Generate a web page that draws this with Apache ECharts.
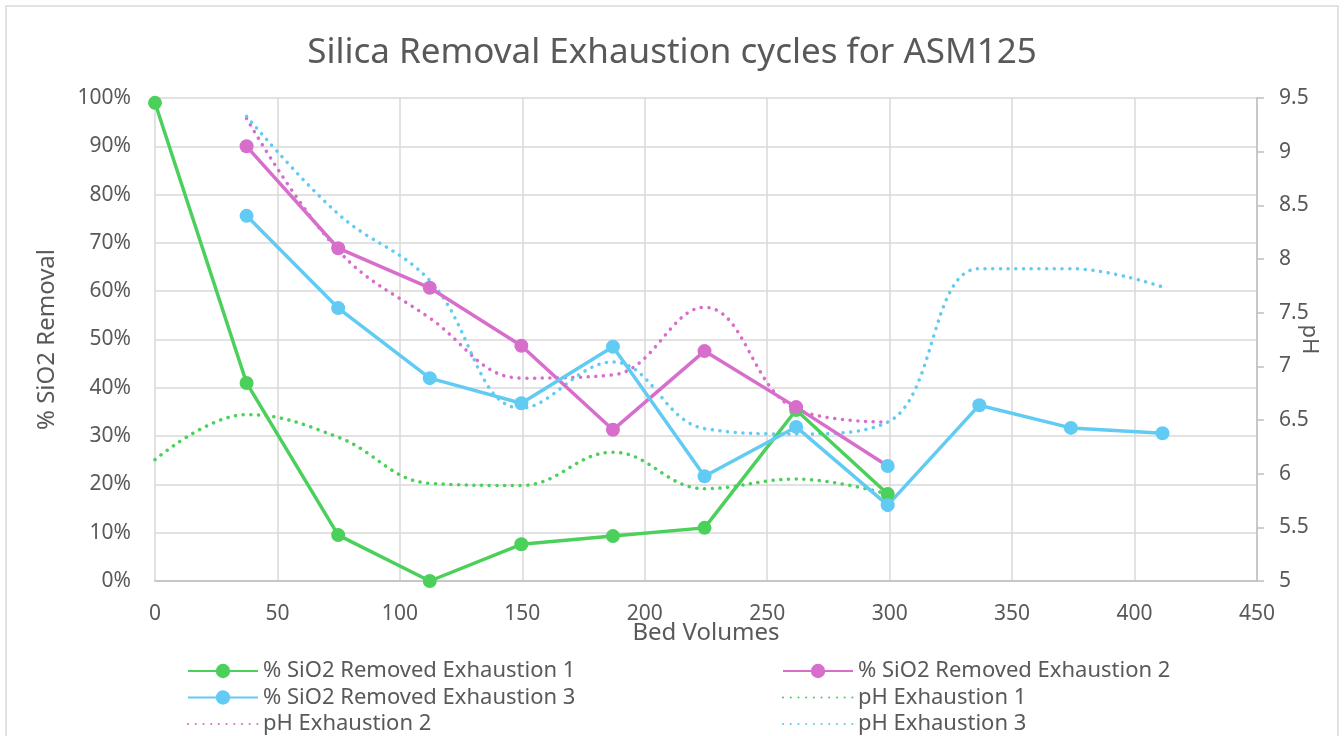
<!DOCTYPE html>
<html>
<head>
<meta charset="utf-8">
<script src="https://cdn.jsdelivr.net/npm/echarts@6/dist/echarts.min.js"></script>
<style>
  html, body { margin: 0; padding: 0; background: #fff; }
  #chart { width: 1344px; height: 736px; }
</style>
</head>
<body>
<div id="chart"></div>
<script>
  // bed volumes shared by all exhaustion runs
  const bedVolumes = [0, 37.4, 74.8, 112.2, 149.6, 187, 224.4, 261.8, 299.2, 336.6, 374, 411.4];

  // % SiO2 removed (left axis)
  const removed1 = [99, 41, 9.5, 0, 7.6, 9.3, 11, 35.4, 18];
  const removed2 = [null, 90, 68.9, 60.7, 48.7, 31.3, 47.6, 36, 23.8];
  const removed3 = [null, 75.6, 56.5, 42, 36.8, 48.5, 21.7, 31.9, 15.7, 36.4, 31.7, 30.6];

  // pH (right axis)
  const ph1 = [6.13, 6.55, 6.34, 5.91, 5.89, 6.2, 5.86, 5.95, 5.81];
  const ph2 = [null, 9.31, 8.08, 7.45, 6.89, 6.92, 7.55, 6.6, 6.48];
  const ph3 = [null, 9.33, 8.42, 7.8, 6.61, 7.04, 6.42, 6.37, 6.48, 7.91, 7.91, 7.74];

  const names = [
    "% SiO2 Removed Exhaustion 1",
    "% SiO2 Removed Exhaustion 2",
    "% SiO2 Removed Exhaustion 3",
    "pH Exhaustion 1",
    "pH Exhaustion 2",
    "pH Exhaustion 3"
  ];

  const green = "#4BD05B";
  const pink = "#D86ECC";
  const blue = "#61CBF3";
  const textColor = "#595959";
  const font = "Noto Sans";

  function pairs(values) {
    let out = [];
    values.forEach((v, i) => {
      if (v !== null) out.push([bedVolumes[i], v]);
    });
    return out;
  }

  function solidSeries(name, values, color) {
    return {
      name: name,
      type: "line",
      yAxisIndex: 0,
      data: pairs(values),
      symbol: "circle",
      symbolSize: 14,
      itemStyle: { color: color },
      lineStyle: { color: color, width: 3.5 },
      z: 3
    };
  }

  function dottedSeries(name, values, color) {
    return {
      name: name,
      type: "line",
      yAxisIndex: 1,
      data: pairs(values),
      smooth: 0.4,
      symbol: "none",
      itemStyle: { color: color },
      lineStyle: { color: color, width: 3.5, type: [0.1, 7.6], cap: "round" },
      z: 2
    };
  }

  let series = [
    solidSeries(names[0], removed1, green),
    solidSeries(names[1], removed2, pink),
    solidSeries(names[2], removed3, blue),
    dottedSeries(names[3], ph1, green),
    dottedSeries(names[4], ph2, pink),
    dottedSeries(names[5], ph3, blue)
  ];
  // the last point of exhaustion 2 is shown with a light blue marker in the original
  let last2 = series[1].data.length - 1;
  series[1].data[last2] = { value: series[1].data[last2], itemStyle: { color: blue } };

  // dotted pH entries show only the line in the legend
  function legendItem(name) {
    if (name.indexOf("pH") === 0) return { name: name, itemStyle: { opacity: 0 } };
    return { name: name };
  }

  const legendText = { color: textColor, fontSize: 22, fontFamily: font, lineHeight: 22 };

  const chart = echarts.init(document.getElementById("chart"));
  chart.setOption({
    animation: false,
    backgroundColor: "#fff",
    textStyle: { fontFamily: font },
    graphic: [{
      type: "rect",
      shape: { x: 6, y: 6, width: 1332, height: 740 },
      style: { fill: "none", stroke: "#D9D9D9", lineWidth: 1.5 },
      silent: true
    }],
    title: {
      text: "Silica Removal Exhaustion cycles for ASM125",
      left: "center",
      top: 31,
      textStyle: { color: textColor, fontSize: 35, fontWeight: "normal", fontFamily: font }
    },
    grid: { left: 155, right: 87, top: 98, bottom: 155, outerBoundsMode: "none" },
    legend: [
      {
        orient: "vertical",
        left: 182,
        top: 655,
        height: 120,
        itemWidth: 70,
        itemHeight: 18,
        itemGap: 4.5,
        data: [names[0], names[2], names[4]].map(legendItem),
        textStyle: legendText
      },
      {
        orient: "vertical",
        left: 777,
        top: 655,
        height: 120,
        itemWidth: 70,
        itemHeight: 18,
        itemGap: 4.5,
        data: [names[1], names[3], names[5]].map(legendItem),
        textStyle: legendText
      }
    ],
    xAxis: {
      type: "value",
      min: 0,
      max: 450,
      interval: 50,
      name: "Bed Volumes",
      nameLocation: "middle",
      nameGap: 40,
      nameMoveOverlap: false,
      nameTextStyle: { color: textColor, fontSize: 24, fontFamily: font },
      axisLine: { show: true, lineStyle: { color: "#BFBFBF", width: 1.5 } },
      axisTick: { show: false },
      axisLabel: { color: textColor, fontSize: 21, margin: 23, fontFamily: font },
      splitLine: { show: true, lineStyle: { color: "#D9D9D9", width: 1.5 } }
    },
    yAxis: [
      {
        type: "value",
        min: 0,
        max: 100,
        interval: 10,
        name: "% SiO2 Removal",
        nameLocation: "middle",
        nameRotate: 90,
        nameGap: 96,
        nameMoveOverlap: false,
        nameTextStyle: { color: textColor, fontSize: 24, fontFamily: font },
        axisLine: { show: false },
        axisTick: { show: false },
        axisLabel: { color: textColor, fontSize: 21, margin: 24, formatter: "{value}%", fontFamily: font },
        splitLine: { show: true, lineStyle: { color: "#D9D9D9", width: 1.5 } }
      },
      {
        type: "value",
        position: "right",
        min: 5,
        max: 9.5,
        interval: 0.5,
        name: "pH",
        nameLocation: "middle",
        nameRotate: -90,
        nameGap: 41,
        nameMoveOverlap: false,
        nameTextStyle: { color: textColor, fontSize: 22, fontFamily: font },
        axisLine: { show: true, lineStyle: { color: "#BFBFBF", width: 1.5 } },
        axisTick: { show: true, length: 7, lineStyle: { color: "#BFBFBF", width: 1.5 } },
        axisLabel: { color: textColor, fontSize: 21, margin: 22, fontFamily: font },
        splitLine: { show: false }
      }
    ],
    series: series
  });
</script>
</body>
</html>
